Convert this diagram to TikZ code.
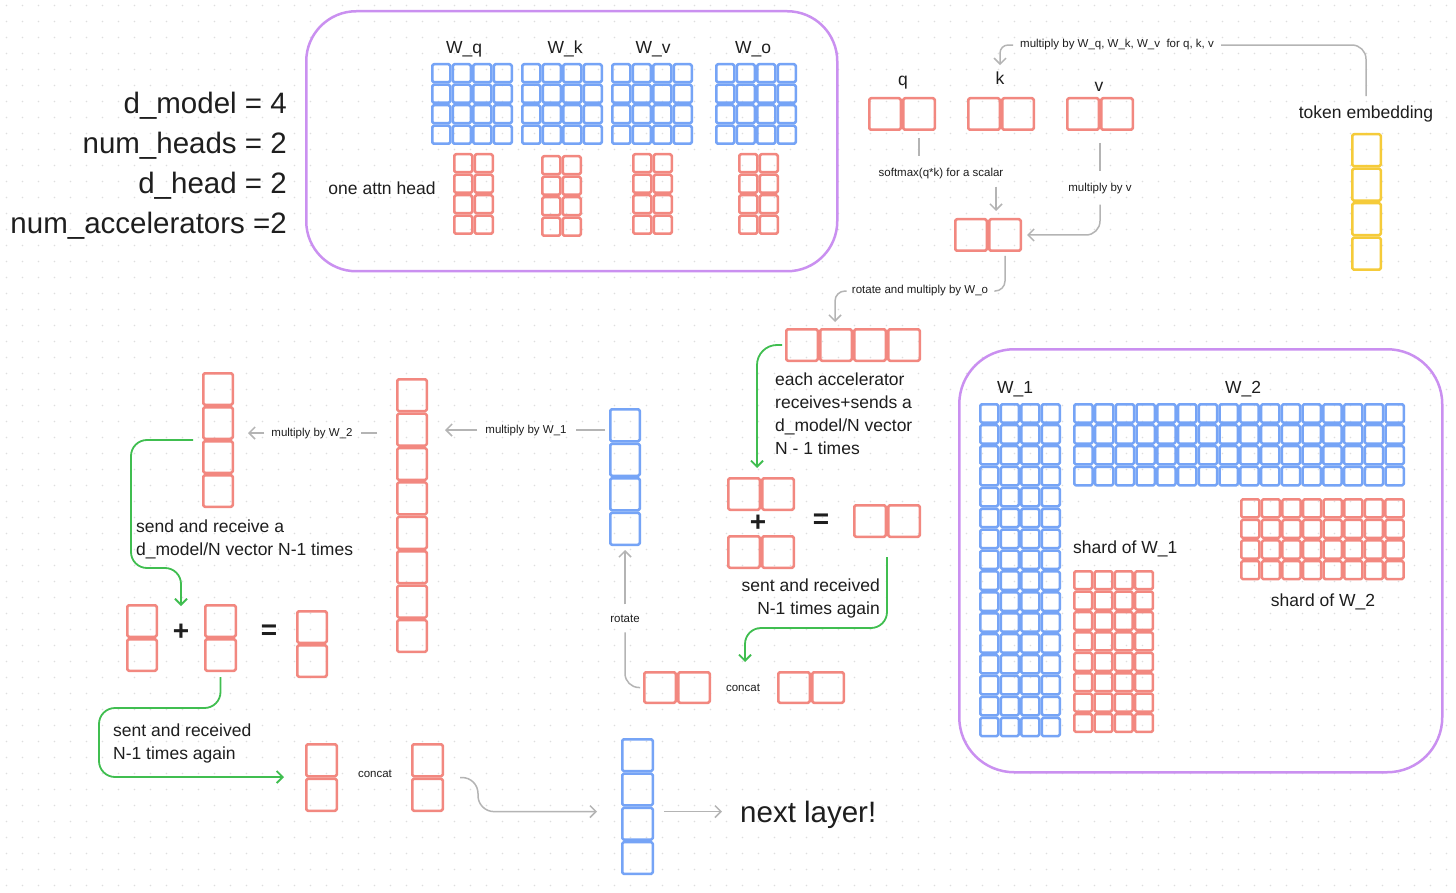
\documentclass[tikz,border=0pt]{standalone}
\usepackage{fontspec}
\setmainfont{Liberation Sans}
\usetikzlibrary{arrows.meta,calc,patterns}

\definecolor{cred}{RGB}{242,136,128}
\definecolor{cblue}{RGB}{118,164,246}
\definecolor{cyellow}{RGB}{245,203,58}
\definecolor{cpurple}{RGB}{202,144,240}
\definecolor{cgreen}{RGB}{64,190,80}
\definecolor{cgrey}{RGB}{180,180,180}
\definecolor{ctext}{RGB}{30,30,30}
\definecolor{cdot}{RGB}{222,222,222}

\pgfdeclarepatternformonly{gdots}{\pgfpointorigin}{\pgfpoint{16pt}{16pt}}{\pgfpoint{16pt}{16pt}}{\pgfpathcircle{\pgfpoint{8pt}{8pt}}{0.9pt}\pgfusepath{fill}}

% #1 name, #2 colour, #3 x0, #4 y0, #5 cols, #6 rows, #7 pitch x, #8 pitch y
\newcommand\mgrid[8]{%
  \foreach \mgi in {1,...,#5}{\foreach \mgj in {1,...,#6}{%
    \draw[cellst, draw=#2] ({#3+(\mgi-1)*#7+1.25},{#4+(\mgj-1)*#8+1.25}) rectangle ({#3+\mgi*#7-1.25},{#4+\mgj*#8-1.25});}}%
  \node[inner sep=0pt, outer sep=0pt, minimum width={#5*#7}, minimum height={#6*#8}, anchor=north west] (#1) at (#3,#4) {};%
}

\begin{document}
\begin{tikzpicture}[x=1pt,y=-1pt, line join=round,
  cellst/.style={line width=2.5pt, rounded corners=1.5pt},
  gline/.style={draw=cgrey, line width=1.5pt},
  garr/.style={gline, -{Straight Barb[length=6pt,width=12pt]}},
  grn/.style={draw=cgreen, line width=1.8pt, -{Straight Barb[length=6pt,width=12pt]}},
  tbig/.style={font=\fontsize{29.5}{34}\selectfont, text=ctext, inner sep=0pt},
  tmid/.style={font=\fontsize{17.5}{23}\selectfont, text=ctext, inner sep=0pt},
  tsm/.style={font=\fontsize{11.5}{14}\selectfont, text=ctext, inner sep=0pt},
  tsym/.style={font=\fontsize{28}{30}\selectfont\bfseries, text=ctext, inner sep=0pt},
  pbox/.style={draw=cpurple, line width=2.5pt, inner sep=0pt}]

\fill[white] (0,0) rectangle (1456,893);
\fill[pattern=gdots, pattern color=cdot] (0,0) rectangle (1456,893);
\useasboundingbox (0,0) rectangle (1456,893);

% ---------- parameters ----------
\node[tbig, anchor=base east] (pdm) at (287,114) {d\_model = 4};
\node[tbig, anchor=base east] (pnh) at (287,154) {num\_heads = 2};
\node[tbig, anchor=base east] (pdh) at (287,194) {d\_head = 2};
\node[tbig, anchor=base east] (pna) at (287,234) {num\_accelerators =2};

% ---------- attention weights box ----------
\node[pbox, rounded corners=50pt, minimum width=531, minimum height=260, anchor=north west] (attnbox) at (305,10) {};
\node[tmid, anchor=base] (lwq) at (464,54) {W\_q};
\node[tmid, anchor=base] (lwk) at (565,54) {W\_k};
\node[tmid, anchor=base] (lwv) at (653,54) {W\_v};
\node[tmid, anchor=base] (lwo) at (753,54) {W\_o};
\mgrid{Wq}{cblue}{431}{63}{4}{4}{20.5}{20.5}
\mgrid{Wk}{cblue}{521}{63}{4}{4}{20.5}{20.5}
\mgrid{Wv}{cblue}{611}{63}{4}{4}{20.5}{20.5}
\mgrid{Wo}{cblue}{715}{63}{4}{4}{20.5}{20.5}
\mgrid{hq}{cred}{453}{153}{2}{4}{20.5}{20.5}
\mgrid{hk}{cred}{541}{155}{2}{4}{20.5}{20.5}
\mgrid{hv}{cred}{632}{153}{2}{4}{20.5}{20.5}
\mgrid{ho}{cred}{738}{153}{2}{4}{20.5}{20.5}
\node[tmid, anchor=base] (oah) at (382,195) {one attn head};

% ---------- q k v ----------
\node[tmid, anchor=base] (lq) at (903,86) {q};
\node[tmid, anchor=base] (lk) at (1000,85) {k};
\node[tmid, anchor=base] (lv) at (1099,92) {v};
\mgrid{q}{cred}{868}{97}{2}{1}{34}{34}
\mgrid{k}{cred}{967}{97}{2}{1}{34}{34}
\mgrid{v}{cred}{1066}{97}{2}{1}{34}{34}
\mgrid{att}{cred}{954}{218}{2}{1}{34}{34}
\mgrid{x4}{cred}{785}{328}{4}{1}{34}{34}

\node[tmid, anchor=base] (tokl) at (1366,119) {token embedding};
\mgrid{tok}{cyellow}{1351}{133}{1}{4}{31}{34.5}
\node[tsm, anchor=base] (mqkv) at (1117,48) {multiply by W\_q, W\_k, W\_v\ \ for q, k, v};
\draw[gline, rounded corners=14pt] ($(tokl.north)+(0,-10)$) |- ($(mqkv.east)+(7,0)$);
\draw[garr, rounded corners=8pt] ($(mqkv.west)+(-7,0)$) -| ($(lk.north)+(0,-7)$);

\node[tsm, anchor=base] (smx) at (941,177) {softmax(q*k) for a scalar};
\draw[gline] ($(q.south)+(17,7)$) -- ($(q.south |- smx.north)+(17,-12)$);
\draw[garr] ($(att.north |- smx.south)+(8,7)$) -- ($(att.north)+(8,-7)$);

\node[tsm, anchor=base] (mbv) at (1100,192) {multiply by v};
\draw[gline] ($(v.south)+(0,12)$) -- ($(mbv.north)+(0,-12)$);
\draw[garr, rounded corners=14pt] ($(mbv.south)+(0,10)$) |- ($(att.east)+(5,0)$);

\node[tsm, anchor=base] (rmw) at (920,294) {rotate and multiply by W\_o};
\draw[gline, rounded corners=10pt] ($(att.south)+(17,4)$) |- ($(rmw.east)+(6,0)$);
\draw[garr, rounded corners=10pt] ($(rmw.west)+(-5,0)$) -| ($(x4.north)+(-18,-6)$);

% ---------- all-reduce of attention output ----------
\node[tmid, anchor=north west, align=left] (eat) at (775,373) {each accelerator\\receives+sends a\\d\_model/N vector\\N - 1 times};
\mgrid{sumt}{cred}{727}{477}{2}{1}{34}{34}
\mgrid{sumb}{cred}{727}{535}{2}{1}{34}{34}
\node[tsym] (plus2) at (758,523) {+};
\node[tsym] (eq2) at (821,521) {=};
\mgrid{res}{cred}{853}{504}{2}{1}{34}{34}
\draw[grn, rounded corners=20pt] ($(x4.west)+(-3,0)$) -| ($(sumt.north)+(-4,-9)$);

\node[tmid, anchor=north east, align=right] (sr2) at (880,579) {sent and received\\N-1 times again};
\coordinate (cin) at (745,662);
\draw[grn, rounded corners=16pt] ($(res.south)+(0,19)$) |- ($(cin)+(0,-34)$) -- (cin);

\mgrid{ccL}{cred}{643}{671}{2}{1}{34}{33}
\node[tsm, anchor=base] (cc1) at (743,691) {concat};
\mgrid{ccR}{cred}{777}{671}{2}{1}{34}{33}

% ---------- MLP path ----------
\node[tsm, anchor=base] (rot) at (625,622) {rotate};
\mgrid{bmid}{cblue}{609}{408}{1}{4}{32}{34.5}
\draw[gline, rounded corners=14pt] ($(ccL.west)+(-3,0)$) -| ($(rot.south)+(0,10)$);
\draw[garr] ($(rot.north)+(0,-10)$) -- ($(bmid.south)+(0,4)$);

\mgrid{tall}{cred}{396}{378}{1}{8}{32}{34.4}
\node[tsm, anchor=base] (mw1) at (526,433) {multiply by W\_1};
\draw[gline] ($(mw1.east -| bmid.west)+(-4,0)$) -- ($(mw1.east)+(9,0)$);
\draw[garr] ($(mw1.west)+(-8,0)$) -- ($(mw1.west -| tall.east)+(17,0)$);

\mgrid{lred}{cred}{202}{372}{1}{4}{32}{34}
\node[tsm, anchor=base] (mw2) at (312,436) {multiply by W\_2};
\draw[gline] ($(mw2.east -| tall.west)+(-19,0)$) -- ($(mw2.east)+(8,0)$);
\draw[garr] ($(mw2.west)+(-7,0)$) -- ($(mw2.west -| lred.east)+(14,0)$);

\node[tmid, anchor=north west, align=left] (sr1) at (136,520) {send and receive a\\d\_model/N vector N-1 times};
\coordinate (gw1) at (131,568);
\coordinate (gin1) at (181,606);
\draw[grn, rounded corners=16pt] ($(lred.west)+(-9,0)$) -| (gw1) -| (gin1);

\mgrid{va}{cred}{126}{604}{1}{2}{32}{34}
\node[tsym] (plus1) at (181,632) {+};
\mgrid{vb}{cred}{204}{604}{1}{2}{33}{34}
\node[tsym] (eq1) at (269,632) {=};
\mgrid{vc}{cred}{296}{610}{1}{2}{32}{34}

\node[tmid, anchor=north west, align=left] (sr3) at (113,724) {sent and received\\N-1 times again};
\coordinate (gw2) at (99,708);
\coordinate (gin2) at (284,777);
\draw[grn, rounded corners=16pt] ($(vb.south)+(0,5)$) |- (gw2) |- (gin2);

\mgrid{bcL}{cred}{305}{743}{1}{2}{33}{34.5}
\node[tsm, anchor=base] (cc2) at (375,777) {concat};
\mgrid{bcR}{cred}{411}{743}{1}{2}{33}{34.5}
\mgrid{bblue}{cblue}{621}{738}{1}{4}{33}{34.3}
\draw[garr, rounded corners=16pt] ($(bcR.east)+(16,0)$) -- ++(18,0) |- ($(bblue.west)+(-24,5)$);

\node[tbig, anchor=base west] (nl) at (740,822) {next layer!};
\draw[garr] ($(bblue.east)+(10,5)$) -- ($(nl.west |- bblue.east)+(-18,5)$);

% ---------- MLP weights box ----------
\node[pbox, rounded corners=55pt, minimum width=483, minimum height=423, anchor=north west] (ffnbox) at (958,348) {};
\node[tmid, anchor=base] (lw1) at (1015,393) {W\_1};
\node[tmid, anchor=base] (lw2) at (1243,393) {W\_2};
\mgrid{W1}{cblue}{979}{403}{4}{16}{20.5}{20.9}
\mgrid{W2}{cblue}{1073}{403}{16}{4}{20.75}{20.9}
\mgrid{sW2}{cred}{1240}{498}{8}{4}{20.6}{20.6}
\mgrid{sW1}{cred}{1073}{570}{4}{8}{20.3}{20.4}
\node[tmid, anchor=base west] (ls1) at (1073,553) {shard of W\_1};
\node[tmid, anchor=base] (ls2) at (1323,606) {shard of W\_2};

\end{tikzpicture}
\end{document}
